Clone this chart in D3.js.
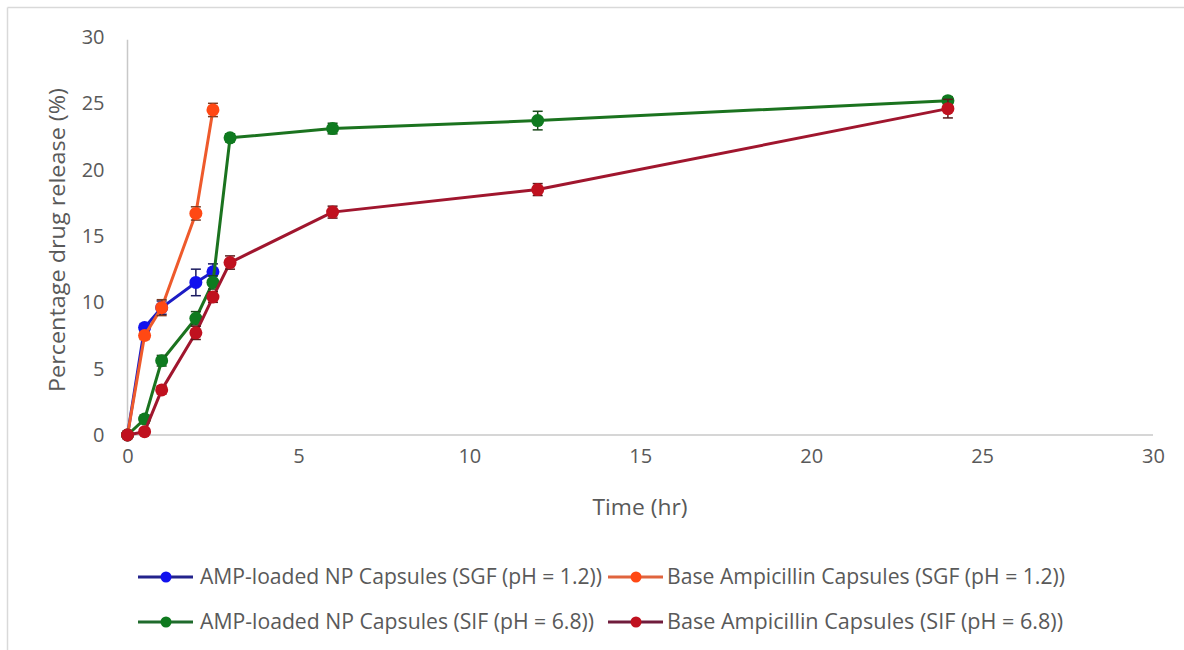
<!DOCTYPE html>
<html>
<head>
<meta charset="utf-8">
<script src="https://cdn.jsdelivr.net/npm/d3@7"></script>
<style>
  html, body { margin: 0; padding: 0; background: #ffffff; }
  svg { display: block; }
  text { font-family: "Open Sans", "DejaVu Sans", sans-serif; }
</style>
</head>
<body>
<svg id="chart" width="1184" height="650"></svg>
<script>
// ---- data ----
const timeSGF = [0, 0.5, 1, 2, 2.5];
const timeSIF = [0, 0.5, 1, 2, 2.5, 3, 6, 12, 24];

const npSGF      = [0, 8.1, 9.6, 11.5, 12.3];
const npSGFErr   = [0, 0.3, 0.5, 1.0, 0.6];
const baseSGF    = [0, 7.5, 9.6, 16.7, 24.5];
const baseSGFErr = [0, 0.3, 0.6, 0.5, 0.5];
const npSIF      = [0, 1.2, 5.6, 8.8, 11.5, 22.4, 23.1, 23.7, 25.2];
const npSIFErr   = [0, 0.3, 0.4, 0.5, 0.5, 0.3, 0.4, 0.7, 0.3];
const baseSIF    = [0, 0.25, 3.4, 7.7, 10.4, 13.0, 16.8, 18.5, 24.6];
const baseSIFErr = [0, 0.2, 0.3, 0.5, 0.4, 0.5, 0.45, 0.45, 0.7];

const seriesNames = [
  "AMP-loaded NP Capsules (SGF (pH = 1.2))",
  "Base Ampicillin Capsules (SGF (pH = 1.2))",
  "AMP-loaded NP Capsules (SIF (pH = 6.8))",
  "Base  Ampicillin Capsules (SIF (pH = 6.8))"
];
const xTicks = [0, 5, 10, 15, 20, 25, 30];
const yTicks = [0, 5, 10, 15, 20, 25, 30];
const xTitle = "Time (hr)";
const yTitle = "Percentage drug release (%)";

// ---- styles ----
const lineColors   = ["#1c1cc4", "#ee5a2c", "#1b731f", "#a0162e"];
const markerColors = ["#1212ee", "#ff4814", "#0f7a1f", "#c0111f"];
const errColors    = ["#1a1a60", "#7a3a22", "#1c4a1c", "#5a1a1c"];
const legendLine   = ["#23238c", "#e0643e", "#1f6b2c", "#701c3c"];

const series = [
  { name: seriesNames[0], t: timeSGF, v: npSGF,   e: npSGFErr },
  { name: seriesNames[1], t: timeSGF, v: baseSGF, e: baseSGFErr },
  { name: seriesNames[2], t: timeSIF, v: npSIF,   e: npSIFErr },
  { name: seriesNames[3], t: timeSIF, v: baseSIF, e: baseSIFErr }
];

const svg = d3.select("#chart");

// frame
svg.append("line").attr("x1", 7.5).attr("x2", 1184).attr("y1", 7.5).attr("y2", 7.5)
  .attr("stroke", "#d9d9d9").attr("stroke-width", 1.5);
svg.append("line").attr("x1", 7.5).attr("x2", 7.5).attr("y1", 7.5).attr("y2", 650)
  .attr("stroke", "#d9d9d9").attr("stroke-width", 1.5);

const x = d3.scaleLinear().domain([0, 30]).range([127.5, 1153]);
const y = d3.scaleLinear().domain([0, 30]).range([435, 37]);

// axes
const xAxis = svg.append("g").attr("transform", `translate(0,${y(0)})`)
  .call(d3.axisBottom(x).tickValues(xTicks).tickSize(0).tickPadding(14).tickFormat(d3.format("d")));
xAxis.select(".domain").attr("stroke", "#c8c8c8").attr("stroke-width", 1.5);
xAxis.selectAll("text").attr("fill", "#595959").attr("font-size", 20);

const yAxis = svg.append("g").attr("transform", `translate(${x(0)},0)`)
  .call(d3.axisLeft(y).tickValues(yTicks).tickSize(0).tickPadding(23).tickFormat(d3.format("d")));
yAxis.select(".domain").attr("stroke", "#c8c8c8").attr("stroke-width", 1.5);
yAxis.selectAll("text").attr("fill", "#595959").attr("font-size", 20);
yAxis.select(".domain").attr("d", `M0,${y(0)}V${y(29.8)}`);
xAxis.select(".domain").attr("d", `M${x(0)},0H${x(30)}`);

// titles
svg.append("text").attr("x", 640).attr("y", 515).attr("text-anchor", "middle")
  .attr("fill", "#595959").attr("font-size", 21)
  .attr("textLength", 95).attr("lengthAdjust", "spacingAndGlyphs").text(xTitle);
svg.append("text").attr("transform", `translate(65,240) rotate(-90)`).attr("text-anchor", "middle")
  .attr("fill", "#595959").attr("font-size", 21)
  .attr("textLength", 304).attr("lengthAdjust", "spacingAndGlyphs").text(yTitle);

// series
const line = d3.line().x(d => x(d.t)).y(d => y(d.v));
series.forEach((s, i) => {
  const pts = s.t.map((t, k) => ({ t: t, v: s.v[k], e: s.e[k] }));
  const g = svg.append("g");
  g.append("path").datum(pts).attr("d", line).attr("fill", "none")
    .attr("stroke", lineColors[i]).attr("stroke-width", 3).attr("stroke-linejoin", "round");
  const eb = g.selectAll(".eb").data(pts.filter(d => d.e > 0)).enter().append("g");
  eb.append("line").attr("x1", d => x(d.t)).attr("x2", d => x(d.t))
    .attr("y1", d => y(d.v - d.e)).attr("y2", d => y(d.v + d.e))
    .attr("stroke", errColors[i]).attr("stroke-width", 1.5);
  eb.append("line").attr("x1", d => x(d.t) - 5).attr("x2", d => x(d.t) + 5)
    .attr("y1", d => y(d.v - d.e)).attr("y2", d => y(d.v - d.e))
    .attr("stroke", errColors[i]).attr("stroke-width", 1.5);
  eb.append("line").attr("x1", d => x(d.t) - 5).attr("x2", d => x(d.t) + 5)
    .attr("y1", d => y(d.v + d.e)).attr("y2", d => y(d.v + d.e))
    .attr("stroke", errColors[i]).attr("stroke-width", 1.5);
  g.selectAll("circle").data(pts).enter().append("circle")
    .attr("cx", d => x(d.t)).attr("cy", d => y(d.v)).attr("r", 6.5)
    .attr("fill", markerColors[i]);
});

// legend
const legendPos = [
  { lx: 138, tx: 200, y: 577, w: 402 },
  { lx: 608, tx: 667, y: 577, w: 398 },
  { lx: 138, tx: 200, y: 622, w: 394 },
  { lx: 608, tx: 667, y: 622, w: 396 }
];
series.forEach((s, i) => {
  const p = legendPos[i];
  const g = svg.append("g");
  g.append("line").attr("x1", p.lx).attr("x2", p.lx + 55).attr("y1", p.y).attr("y2", p.y)
    .attr("stroke", legendLine[i]).attr("stroke-width", 3);
  g.append("circle").attr("cx", p.lx + 28).attr("cy", p.y).attr("r", 5.5).attr("fill", markerColors[i]);
  g.append("text").attr("x", p.tx).attr("y", p.y).attr("dy", "0.35em")
    .attr("fill", "#595959").attr("font-size", 21)
    .attr("textLength", p.w).attr("lengthAdjust", "spacingAndGlyphs").text(s.name);
});
</script>
</body>
</html>
